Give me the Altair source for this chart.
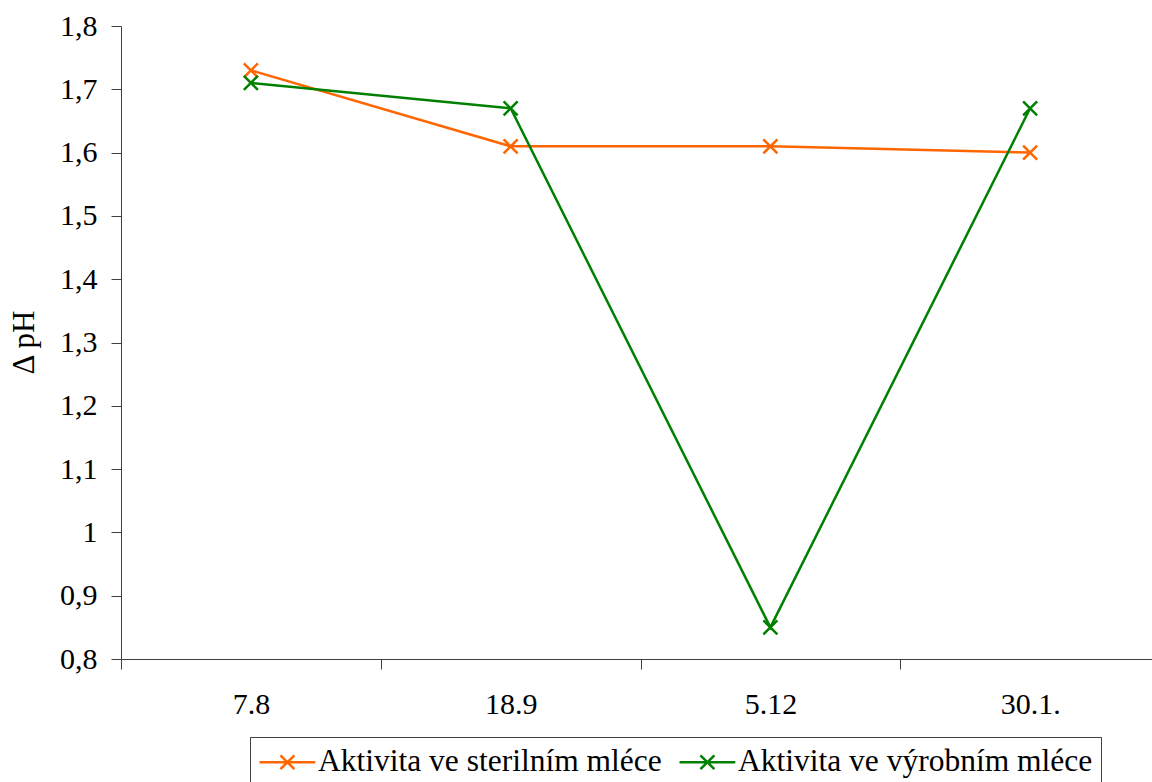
import altair as alt
import pandas as pd

# Sampling dates (category axis)
dates = ["7.8", "18.9", "5.12", "30.1."]

# Series names
series_sterile = "Aktivita ve sterilním mléce"
series_production = "Aktivita ve výrobním mléce"

# Change of pH for each series
delta_ph_sterile = [1.73, 1.61, 1.61, 1.60]
delta_ph_production = [1.71, 1.67, 0.85, 1.67]

# Axis ticks
y_ticks = [0.8, 0.9, 1.0, 1.1, 1.2, 1.3, 1.4, 1.5, 1.6, 1.7, 1.8]

df = pd.DataFrame(
    {
        "datum": dates * 2,
        "serie": [series_sterile] * len(dates) + [series_production] * len(dates),
        "dph": delta_ph_sterile + delta_ph_production,
    }
)

FONT = "'Liberation Serif', 'Times New Roman', Times, serif"
X_SHAPE = "M-1,-1L1,1M-1,1L1,-1"
# Legend glyph: a line segment with an x marker, drawn wider than the
# nominal symbol box so the entry row stays as tall as the label text
LEGEND_SHAPE = "M-1,0L2.6,0M0.35,-0.45L1.25,0.45M0.35,0.45L1.25,-0.45"

color = alt.Color(
    "serie:N",
    scale=alt.Scale(
        domain=[series_sterile, series_production],
        range=["#FF6600", "#008000"],
    ),
    legend=alt.Legend(
        title=None,
        orient="none",
        direction="horizontal",
        legendX=129,
        legendY=711,
        symbolType=LEGEND_SHAPE,
        symbolSize=961,
        symbolStrokeWidth=2.5,
        symbolFillColor="transparent",
        labelFont=FONT,
        labelFontSize=31.5,
        labelColor="black",
        labelLimit=0,
        labelOffset=26,
        columnPadding=12,
        padding=8,
        strokeColor="#404040",
        fillColor="white",
    ),
)

x = alt.X(
    "datum:N",
    sort=dates,
    scale=alt.Scale(type="band", paddingInner=0, paddingOuter=0, range=[0, 1039]),
    axis=alt.Axis(
        title=None,
        labelAngle=0,
        labelFont=FONT,
        labelFontSize=30,
        labelColor="black",
        labelPadding=20,
        tickBand="extent",
        tickSize=10,
        tickColor="#404040",
        domainColor="#404040",
        grid=False,
    ),
)

y = alt.Y(
    "dph:Q",
    scale=alt.Scale(domain=[0.8, 1.8], zero=False, nice=False),
    axis=alt.Axis(
        title="Δ pH",
        values=y_ticks,
        labelExpr="abs(datum.value - 1) < 1e-9 ? '1' : replace(format(datum.value, '.1f'), '.', ',')",
        labelFont=FONT,
        labelFontSize=30,
        labelColor="black",
        labelPadding=14,
        tickSize=10,
        tickColor="#404040",
        domainColor="#404040",
        grid=False,
        titleFont=FONT,
        titleFontSize=31,
        titleFontWeight="normal",
        titleColor="black",
        titleAngle=270,
        titleX=-97,
        titleY=316,
        titleAlign="center",
        titleBaseline="middle",
    ),
)

lines = alt.Chart(df).mark_line(strokeWidth=2.5).encode(x=x, y=y, color=color)

points = alt.Chart(df).mark_point(
    shape=X_SHAPE, size=196, filled=False, strokeWidth=2.5, opacity=1
).encode(x=x, y=y, color=color)

chart = (
    alt.layer(lines, points)
    .properties(
        width=1031,
        height=633,
        autosize=alt.AutoSizeParams(type="none"),
        padding={"left": 121, "top": 26, "right": 0, "bottom": 123},
        background="white",
    )
    .configure_view(stroke=None)
)

chart.save("out.html", embed_options={"renderer": "svg", "actions": False})
